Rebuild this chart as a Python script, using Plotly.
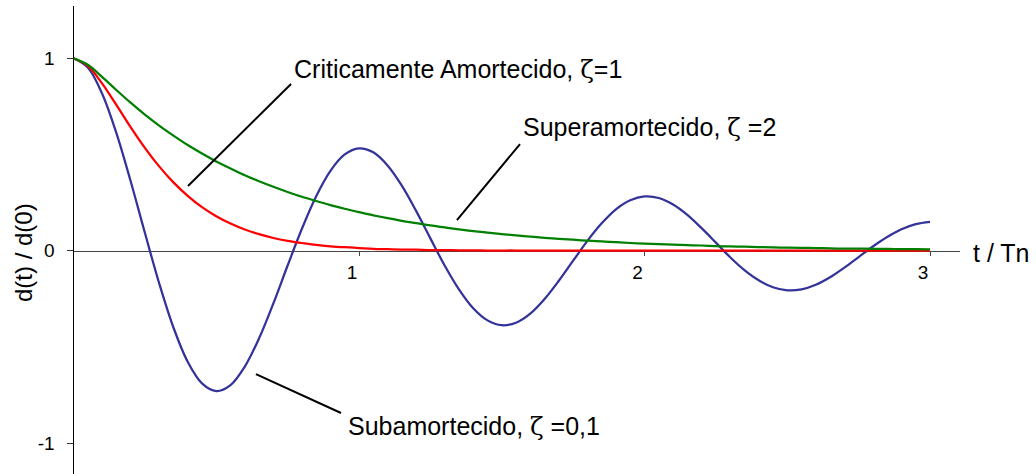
import plotly.graph_objects as go

# Time axis, in periods (t / Tn)
t = [0.00, 0.05, 0.10, 0.15, 0.20, 0.25, 0.30, 0.35, 0.40, 0.45,
     0.50, 0.55, 0.60, 0.65, 0.70, 0.75, 0.80, 0.85, 0.90, 0.95,
     1.00, 1.05, 1.10, 1.15, 1.20, 1.25, 1.30, 1.35, 1.40, 1.45,
     1.50, 1.55, 1.60, 1.65, 1.70, 1.75, 1.80, 1.85, 1.90, 1.95,
     2.00, 2.05, 2.10, 2.15, 2.20, 2.25, 2.30, 2.35, 2.40, 2.45,
     2.50, 2.55, 2.60, 2.65, 2.70, 2.75, 2.80, 2.85, 2.90, 2.95,
     3.00]

# d(t)/d(0), underdamped, zeta = 0.1
d_sub = [1.000, 0.952, 0.817, 0.612, 0.362, 0.093, -0.169, -0.399, -0.577, -0.689,
         -0.729, -0.698, -0.602, -0.455, -0.274, -0.077, 0.114, 0.283, 0.415, 0.500,
         0.532, 0.511, 0.443, 0.338, 0.207, 0.064, -0.077, -0.201, -0.299, -0.362,
         -0.387, -0.374, -0.327, -0.251, -0.156, -0.052, 0.051, 0.142, 0.215, 0.262,
         0.282, 0.274, 0.240, 0.186, 0.117, 0.042, -0.034, -0.101, -0.154, -0.190,
         -0.206, -0.201, -0.177, -0.138, -0.088, -0.033, 0.022, 0.071, 0.111, 0.138,
         0.150]

# d(t)/d(0), critically damped, zeta = 1
d_crit = [1.000, 0.960, 0.869, 0.757, 0.642, 0.534, 0.438, 0.355, 0.285, 0.226,
          0.179, 0.141, 0.110, 0.086, 0.066, 0.051, 0.040, 0.030, 0.023, 0.018,
          0.014, 0.010, 0.008, 0.006, 0.005, 0.003, 0.003, 0.002, 0.002, 0.001,
          0.001, 0.001, 0.000, 0.000, 0.000, 0.000, 0.000, 0.000, 0.000, 0.000,
          0.000, 0.000, 0.000, 0.000, 0.000, 0.000, 0.000, 0.000, 0.000, 0.000,
          0.000, 0.000, 0.000, 0.000, 0.000, 0.000, 0.000, 0.000, 0.000, 0.000,
          0.000]

# d(t)/d(0), overdamped, zeta = 2
d_super = [1.000, 0.966, 0.903, 0.835, 0.769, 0.707, 0.650, 0.598, 0.549, 0.505,
           0.464, 0.427, 0.392, 0.361, 0.332, 0.305, 0.280, 0.258, 0.237, 0.218,
           0.200, 0.184, 0.169, 0.155, 0.143, 0.131, 0.121, 0.111, 0.102, 0.094,
           0.086, 0.079, 0.073, 0.067, 0.062, 0.057, 0.052, 0.048, 0.044, 0.040,
           0.037, 0.034, 0.031, 0.029, 0.027, 0.024, 0.022, 0.021, 0.019, 0.017,
           0.016, 0.015, 0.014, 0.012, 0.011, 0.011, 0.010, 0.009, 0.008, 0.008,
           0.007]

x_ticks = [1, 2, 3]
y_ticks = [-1, 0, 1]

FONT = "Liberation Sans, Arial, sans-serif"
ZETA = '<span style="font-family:DejaVu Serif, serif">ζ</span>'

W, H = 1036, 474

fig = go.Figure()
fig.add_trace(go.Scatter(x=t, y=d_sub, mode="lines", line=dict(color="#333399", width=2.25, shape="spline"),
                         showlegend=False, hoverinfo="skip"))
fig.add_trace(go.Scatter(x=t, y=d_crit, mode="lines", line=dict(color="#ff0000", width=2.25, shape="spline"),
                         showlegend=False, hoverinfo="skip"))
fig.add_trace(go.Scatter(x=t, y=d_super, mode="lines", line=dict(color="#008000", width=2.25, shape="spline"),
                         showlegend=False, hoverinfo="skip"))

# leader lines from each label to its curve
leaders = [
    ((0.762, 0.866), (0.401, 0.336)),
    ((1.564, 0.554), (1.343, 0.159)),
    ((0.639, -0.641), (0.937, -0.843)),
]
for (x0, y0), (x1, y1) in leaders:
    fig.add_shape(type="line", xref="x", yref="y", x0=x0, y0=y0, x1=x1, y1=y1,
                  line=dict(color="black", width=2))

labels = [
    (0.766, 0.94, "Criticamente Amortecido, " + ZETA + "=1"),
    (1.567, 0.64, "Superamortecido, " + ZETA + " =2"),
    (0.955, -0.915, "Subamortecido, " + ZETA + " =0,1"),
]
for x, y, txt in labels:
    fig.add_annotation(x=x, y=y, xref="x", yref="y", text=txt, showarrow=False,
                       xanchor="left", yanchor="middle",
                       font=dict(family=FONT, size=25, color="black"))

fig.add_annotation(x=971 / W, y=1 - 253 / H, xref="paper", yref="paper", text="t / Tn",
                   showarrow=False, xanchor="left", yanchor="middle",
                   font=dict(family=FONT, size=25, color="black"))
fig.add_annotation(x=23 / W, y=1 - 253 / H, xref="paper", yref="paper", text="d(t) / d(0)",
                   textangle=-90, showarrow=False, xanchor="center", yanchor="middle",
                   font=dict(family=FONT, size=24, color="black"))

fig.update_layout(
    width=W, height=H,
    margin=dict(l=0, r=0, t=0, b=0),
    paper_bgcolor="white", plot_bgcolor="white",
    xaxis=dict(
        domain=[73.5 / W, 960 / W],
        range=[0, (960 - 73.5) / 285.5],
        anchor="free", position=1 - 250.7 / H,
        showgrid=False, zeroline=False,
        showline=True, linecolor="#444444", linewidth=1,
        ticks="outside", ticklen=4, tickcolor="#444444",
        tickvals=x_ticks, ticktext=[str(v) for v in x_ticks],
        ticklabelshift=-7,
        tickfont=dict(family=FONT, size=19, color="black"),
        layer="below traces",
    ),
    yaxis=dict(
        domain=[0, 1 - 6 / H],
        range=[(250.7 - H) / 192.5, (250.7 - 6) / 192.5],
        showgrid=False, zeroline=False,
        showline=True, linecolor="black", linewidth=1,
        ticks="outside", ticklen=6, tickcolor="#333333",
        tickvals=y_ticks, ticktext=[str(v) for v in y_ticks],
        ticklabelstandoff=8,
        tickfont=dict(family=FONT, size=19, color="black"),
        layer="below traces",
    ),
)

fig.write_html("out.html")
